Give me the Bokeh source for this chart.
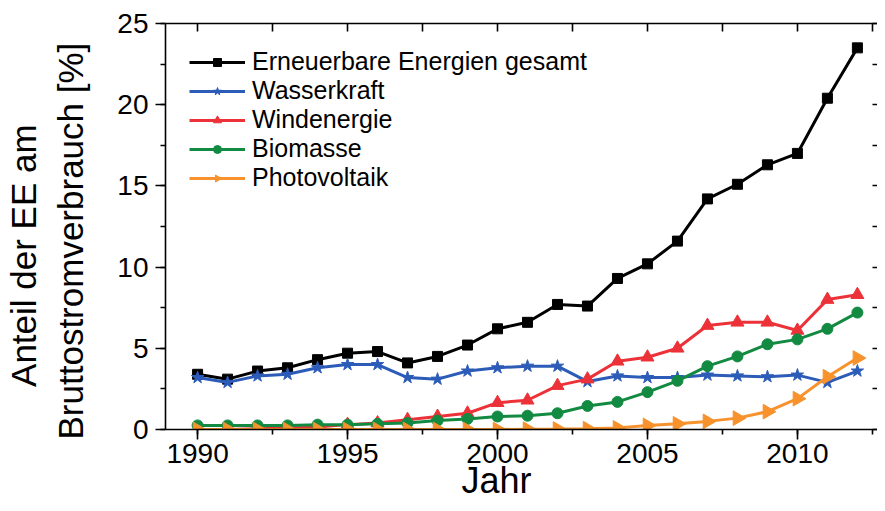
from bokeh.plotting import figure
from bokeh.models import (LinearAxis, SingleIntervalTicker, FixedTicker, Range1d, Legend,
                          ColumnDataSource, Scatter, Line)
from bokeh.embed import file_html
from bokeh.resources import INLINE
import math

try:
    from bokeh.models import Ngon
except Exception:
    Ngon = None

years = list(range(1990, 2013))
gesamt = [3.4, 3.1, 3.6, 3.8, 4.3, 4.7, 4.8, 4.1, 4.5, 5.2, 6.2, 6.6, 7.7, 7.6, 9.3, 10.2, 11.6, 14.2, 15.1, 16.3, 17.0, 20.4, 23.5]
wasser = [3.2, 2.9, 3.3, 3.4, 3.8, 4.0, 4.0, 3.2, 3.1, 3.6, 3.8, 3.9, 3.9, 2.95, 3.3, 3.2, 3.2, 3.35, 3.3, 3.25, 3.35, 2.9, 3.6]
wind = [0.0, 0.0, 0.05, 0.1, 0.15, 0.3, 0.4, 0.6, 0.8, 1.0, 1.65, 1.8, 2.7, 3.1, 4.2, 4.45, 5.0, 6.4, 6.6, 6.6, 6.1, 8.0, 8.3]
biomasse = [0.25, 0.25, 0.25, 0.25, 0.3, 0.3, 0.35, 0.4, 0.55, 0.65, 0.8, 0.85, 1.0, 1.45, 1.7, 2.3, 3.0, 3.9, 4.5, 5.25, 5.55, 6.2, 7.2]
pv = [0.0, 0.0, 0.0, 0.0, 0.0, 0.0, 0.0, 0.0, 0.0, 0.0, 0.0, 0.02, 0.03, 0.05, 0.1, 0.25, 0.35, 0.5, 0.7, 1.1, 1.9, 3.25, 4.4]

names = ["Erneuerbare Energien gesamt", "Wasserkraft", "Windenergie", "Biomasse", "Photovoltaik"]
values = [gesamt, wasser, wind, biomasse, pv]
colors = ["#000000", "#2c5cb8", "#ec3238", "#138a42", "#f7922c"]
markers = ["square", "star", "triangle", "circle", "triangle_right"]
sizes = [10, 13, 13, 11, 13]

x_major = [1990, 1995, 2000, 2005, 2010]
x_minor = [1987.5 + 2.5 * i for i in range(11)]
y_minor = [2.5 * i for i in range(11)]

FONT = "Liberation Sans"
NB = "\u00a0"

p = figure(width=877, height=503, output_backend="svg", toolbar_location=None,
           x_range=Range1d(1988.93, 2012.67), y_range=Range1d(0, 25),
           min_border_left=165, min_border_right=0, min_border_top=23, min_border_bottom=73,
           background_fill_color="white", border_fill_color="white")
p.outline_line_color = None
p.xgrid.visible = False
p.ygrid.visible = False

items = []
for name, vals, col, mk, sz in zip(names, values, colors, markers, sizes):
    src = ColumnDataSource(dict(x=years, y=vals))
    l = p.add_glyph(src, Line(x="x", y="y", line_color=col, line_width=3))
    if mk == "triangle_right" and Ngon is not None:
        s = p.add_glyph(src, Ngon(x="x", y="y", n=3, radius=8.5, radius_units="screen",
                                  angle=-math.pi / 2, fill_color=col, line_color=col))
    else:
        s = p.add_glyph(src, Scatter(x="x", y="y", marker=("triangle" if mk == "triangle_right" else mk),
                                     size=sz, fill_color=col, line_color=col))
    items.append((name, [l, s]))

legend = Legend(items=items, location="top_left")
legend.border_line_color = None
legend.background_fill_alpha = 0
legend.label_text_font = FONT
legend.label_text_font_size = "25px"
legend.label_text_color = "black"
legend.glyph_width = 56
legend.glyph_height = 20
legend.label_height = 20
legend.label_standoff = 7
legend.spacing = 0
legend.margin = 24
legend.padding = 10
p.add_layout(legend, "center")

def style(ax):
    ax.major_label_text_font = FONT
    ax.major_label_text_font_size = "28px"
    ax.major_label_text_color = "black"
    ax.axis_label_text_font = FONT
    ax.axis_label_text_font_style = "normal"
    ax.axis_label_text_color = "black"
    ax.axis_line_width = 1.6
    ax.axis_line_color = "black"
    ax.major_tick_line_width = 1.6
    ax.minor_tick_line_width = 1.6
    ax.major_tick_line_color = "black"
    ax.minor_tick_line_color = "black"
    ax.major_tick_in = 0
    ax.major_tick_out = 10
    ax.minor_tick_in = 0
    ax.minor_tick_out = 5

xa = p.xaxis[0]
xa.ticker = FixedTicker(ticks=x_major, minor_ticks=x_minor)
style(xa)
xa.major_label_standoff = 4
xa.axis_label = "Jahr" + NB * 5
xa.axis_label_text_font_size = "36px"
xa.axis_label_standoff = -6

ya = p.yaxis[0]
ya.ticker = SingleIntervalTicker(interval=5, num_minor_ticks=2)
style(ya)
ya.major_label_standoff = 7
ya.axis_label = "Bruttostromverbrauch [%]" + NB * 3
ya.axis_label_text_font_size = "35px"
ya.axis_label_standoff = 24

# outer line of the y title
ya2 = LinearAxis(ticker=FixedTicker(ticks=[]), axis_label="Anteil der EE am" + NB * 6)
ya2.axis_line_color = None
ya2.major_tick_line_color = None
ya2.minor_tick_line_color = None
ya2.major_label_standoff = 0
ya2.axis_label_text_font = FONT
ya2.axis_label_text_font_size = "35px"
ya2.axis_label_text_font_style = "normal"
ya2.axis_label_text_color = "black"
ya2.axis_label_standoff = 6
p.add_layout(ya2, "left")

# top axis: inward ticks only
ta = LinearAxis(ticker=FixedTicker(ticks=[], minor_ticks=x_minor))
ta.axis_line_width = 1.6
ta.minor_tick_line_width = 1.6
ta.minor_tick_in = 8
ta.minor_tick_out = 0
ta.major_label_standoff = 0
p.add_layout(ta, "above")

# right axis: inward ticks only (frame line cropped in the original)
ra = LinearAxis(ticker=FixedTicker(ticks=[], minor_ticks=y_minor))
ra.axis_line_color = None
ra.minor_tick_line_width = 1.6
ra.minor_tick_in = 5
ra.minor_tick_out = 0
ra.major_label_standoff = 0
p.add_layout(ra, "right")

open("out.html", "w").write(file_html(p, INLINE))
